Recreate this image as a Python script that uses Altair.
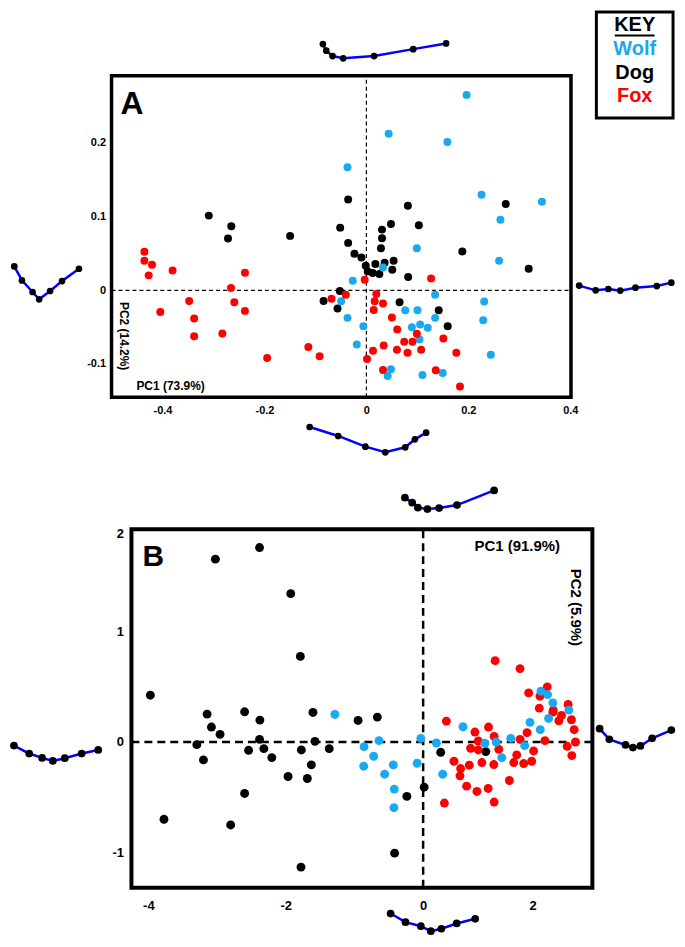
import altair as alt
import pandas as pd

FONT = "Liberation Sans"
BLUE = "#1AA9EE"
RED = "#FF0000"
GLYPH_BLUE = "#0000FF"

# ---------------- Panel A data (PC1, PC2) ----------------
a_wolf_x = [0.1966, 0.0436, 0.1589, -0.0371, 0.2259, 0.3444, 0.2630, 0.0990, 0.2604, 0.0326,
            -0.0267, 0.1348, 0.2311, -0.0495, 0.0762, 0.1003, 0.1348, -0.0371, -0.0059, 0.0892,
            0.1055, 0.1204, 0.1042, 0.2292, -0.0189, 0.2441, 0.0482, 0.0417, 0.1100, 0.1497]
a_wolf_y = [0.2653, 0.2126, 0.2014, 0.1671, 0.1297, 0.1203, 0.0959, 0.0572, 0.0401, 0.0311,
            0.0131, -0.0059, -0.0153, -0.0149, -0.0270, -0.0270, -0.0374, -0.0374, -0.0486, -0.0500,
            -0.0464, -0.0509, -0.0667, -0.0405, -0.0734, -0.0874, -0.1072, -0.1162, -0.1149, -0.1122]

a_dog_x = [-0.3092, -0.2650, -0.2715, -0.1497, -0.0358, 0.0814, -0.0514, 0.0306, 0.0482, 0.1029,
           0.0306, 0.2734, -0.0358, 0.0286, -0.0234, -0.0098, 0.1882, 0.0534, 0.0176, 0.0358,
           -0.0013, 0.0508, 0.0026, 0.0124, 0.0254, 0.3184, 0.0820, -0.0521, -0.0840, 0.0651,
           -0.0566, 0.1419, 0.1595]
a_dog_y = [0.1014, 0.0869, 0.0703, 0.0739, 0.1234, 0.1149, 0.0851, 0.0824, 0.0901, 0.0883,
           0.0707, 0.1171, 0.0644, 0.0572, 0.0495, 0.0446, 0.0527, 0.0401, 0.0356, 0.0374,
           0.0333, 0.0279, 0.0257, 0.0234, 0.0221, 0.0293, 0.0180, -0.0009, -0.0144, -0.0162,
           -0.0248, -0.0270, -0.0486]

a_fox_x = [-0.4355, -0.4355, -0.4206, -0.4271, -0.3802, -0.2383, -0.2656, -0.3477, -0.2591, -0.4043,
           -0.2383, -0.3379, -0.3379, -0.2826, -0.1947, -0.1139, -0.0918, -0.0684, -0.0404, -0.0033,
           0.1270, 0.0195, 0.0163, 0.0326, 0.0143, 0.0501, 0.0605, 0.0990, 0.0742, 0.0905,
           0.1510, 0.0339, 0.0130, 0.0599, 0.0807, 0.1074, 0.1764, 0.0013, 0.0326, 0.1361, 0.1836]
a_fox_y = [0.0523, 0.0401, 0.0347, 0.0203, 0.0270, 0.0239, 0.0032, -0.0144, -0.0162, -0.0293,
           -0.0279, -0.0383, -0.0622, -0.0586, -0.0919, -0.0770, -0.0896, -0.0113, -0.0059, 0.0144,
           0.0162, -0.0050, -0.0149, -0.0180, -0.0266, -0.0369, -0.0532, -0.0590, -0.0698, -0.0698,
           -0.0653, -0.0748, -0.0820, -0.0806, -0.0847, -0.0806, -0.0847, -0.0932, -0.1081, -0.1086, -0.1306]

# outline glyphs around panel A (in panel A units)
a_glyph_top_x = [-0.0854, -0.0787, -0.0664, -0.0455, 0.0151, 0.0918, 0.1563]
a_glyph_top_y = [0.3342, 0.3253, 0.3180, 0.3149, 0.3180, 0.3274, 0.3351]
a_glyph_left_x = [-0.6908, -0.6758, -0.6549, -0.6420, -0.6205, -0.5971, -0.5639]
a_glyph_left_y = [0.0324, 0.0135, -0.0023, -0.0122, -0.0009, 0.0126, 0.0293]
a_glyph_right_x = [0.4174, 0.4498, 0.4746, 0.4980, 0.5279, 0.5697, 0.5982]
a_glyph_right_y = [0.0064, 0.0000, 0.0018, -0.0004, 0.0036, 0.0058, 0.0104]
a_glyph_bot_x = [-0.1113, -0.0553, -0.0020, 0.0371, 0.0762, 0.0951, 0.1172]
a_glyph_bot_y = [-0.1855, -0.1977, -0.2122, -0.2199, -0.2131, -0.2023, -0.1932]

# ---------------- Panel B data (PC1, PC2) ----------------
b_dog_x = [-3.9710, -3.7729, -3.1449, -3.0821, -2.9565, -3.2947, -3.1981, -3.0242, -2.3816, -2.5990,
           -2.3768, -2.3816, -2.5411, -2.3188, -2.2029, -2.5990, -2.8019, -1.9275, -1.7874, -1.6039,
           -1.5749, -1.7729, -1.6280, -1.9662, -1.6860, -1.3671, -0.9469, -0.6667, -1.7778, -0.2367,
           -0.4155, 0.0145, 0.2560, 0.9130]
b_dog_y = [0.4234, -0.6997, 0.2523, 0.1351, 0.0691, -0.0240, -0.1622, 1.6547, 1.7598, 0.2733,
           0.1982, 0.0240, -0.0751, -0.0601, -0.1411, -0.4655, -0.7508, 1.3423, 0.7748, 0.2673,
           0.0060, -0.0721, -0.2072, -0.3123, -0.3303, -0.0601, 0.1952, 0.2252, -1.1321, -0.4925,
           -1.0060, -0.4084, -0.0931, -0.0871]

b_wolf_x = [-1.2850, -0.8599, -0.6425, -0.7198, -0.8647, -0.5604, -0.4348, -0.4203, -0.4251, -0.0870,
            -0.0338, 0.1932, 0.2850, 0.5797, 0.8986, 1.0628, 1.1449, 1.2754, 1.4783, 1.5556,
            1.7053, 1.7150, 1.8116, 1.8889, 1.8261, 2.1208]
b_wolf_y = [0.2492, -0.0420, 0.0120, -0.1291, -0.2192, -0.2913, -0.2072, -0.4264, -0.5946, -0.1922,
            0.0330, -0.0090, -0.2913, 0.1381, -0.0120, 0.0000, -0.1411, 0.0330, -0.0330, 0.1772,
            0.1111, 0.4595, 0.4294, 0.3544, 0.2132, 0.2883]

b_fox_x = [0.3382, 0.3092, 0.4493, 0.5459, 0.5362, 0.6329, 0.7826, 0.6715, 0.7536, 0.6908,
           0.8019, 0.8019, 0.8551, 0.9517, 1.0338, 0.9469, 1.0338, 1.0290, 1.1014, 1.0483,
           1.2560, 1.3188, 1.3623, 1.4106, 1.4106, 1.4638, 1.5121, 1.5797, 1.6087, 1.5362,
           1.6908, 1.7005, 1.7729, 1.8068, 1.8889, 1.9758, 2.0145, 2.1111, 2.1594, 2.1981,
           2.2174, 2.0966, 2.1643, 1.8937]
b_fox_y = [0.1892, -0.5526, -0.1742, -0.2402, -0.3063, -0.3994, -0.4474, -0.2102, 0.0901, -0.0571,
           0.0090, -0.0721, -0.1862, 0.1351, 0.0511, -0.4204, -0.5435, -0.2042, -0.0661, 0.7357,
           -0.3483, -0.1862, -0.1171, 0.0240, 0.6637, -0.1952, 0.0841, -0.1742, -0.0811, 0.4444,
           0.3063, 0.4144, 0.0120, 0.4985, 0.2703, 0.1922, 0.2402, 0.3393, 0.2012, 0.1111,
           0.0000, -0.0390, -0.1231, 0.2883]

b_glyph_top_x = [-0.2652, -0.1594, -0.0768, 0.0623, 0.2319, 0.4928, 1.0333]
b_glyph_top_y = [2.2108, 2.1658, 2.1207, 2.1081, 2.1171, 2.1441, 2.2766]
b_glyph_left_x = [-5.9565, -5.7348, -5.5464, -5.3913, -5.2174, -4.9710, -4.7304]
b_glyph_left_y = [-0.0324, -0.1045, -0.1441, -0.1712, -0.1468, -0.1045, -0.0721]
b_glyph_right_x = [2.5696, 2.7101, 2.9464, 3.0536, 3.1638, 3.3333, 3.6130]
b_glyph_right_y = [0.1207, 0.0243, -0.0270, -0.0505, -0.0360, 0.0333, 0.1081]
b_glyph_bot_x = [-0.4739, -0.2565, -0.0333, 0.1116, 0.2652, 0.4884, 0.7580]
b_glyph_bot_y = [-1.5523, -1.6306, -1.6667, -1.7117, -1.6901, -1.6423, -1.5999]

key_labels = ["KEY", "Wolf", "Dog", "Fox"]
key_colors = ["#000000", BLUE, "#000000", RED]

# tick values
a_xticks = [-0.4, -0.2, 0, 0.2, 0.4]
a_yticks = [-0.1, 0, 0.1, 0.2]
b_xticks = [-4, -2, 0, 1.594]
b_yticks = [-1, 0, 1, 1.889]


def pts(xs, ys):
    return pd.DataFrame({"x": xs, "y": ys})


def glyph_df(glyphs):
    rows = []
    for g, (xs, ys) in enumerate(glyphs):
        for i, (x, y) in enumerate(zip(xs, ys)):
            rows.append({"g": g, "i": i, "x": x, "y": y})
    return pd.DataFrame(rows)


def axis(orient, values, size, pad, offset=0):
    return alt.Axis(orient=orient, values=values,
                    labelExpr="datum.value > 1.5 ? '2' : '' + datum.value",
                    domain=False, ticks=False, tickSize=0, grid=False,
                    labelFont=FONT, labelFontWeight="bold", labelFontSize=size,
                    labelColor="black", labelPadding=pad, labelFlush=False,
                    labelOverlap=False, offset=offset, title=None)


def panel(xdom, ydom, xaxis, yaxis, w, h, frame, frame_w, dash, dash_w,
          species, pt_size, glyphs, g_size, texts, extra_layers_fn=None):
    xs = alt.Scale(domain=xdom, nice=False, zero=False)
    ys = alt.Scale(domain=ydom, nice=False, zero=False)

    def E(ch, **extra):
        return ch.encode(x=alt.X("x:Q", scale=xs, axis=xaxis),
                         y=alt.Y("y:Q", scale=ys, axis=yaxis), **extra)

    fx0, fx1, fy0, fy1 = frame
    layers = []
    layers.append(E(alt.Chart(pd.DataFrame({"x": [0], "y": [fy0], "y2": [fy1]}))
                    .mark_rule(color="black", strokeWidth=dash_w, strokeDash=dash),
                    y2="y2:Q"))
    layers.append(E(alt.Chart(pd.DataFrame({"x": [fx0], "x2": [fx1], "y": [0]}))
                    .mark_rule(color="black", strokeWidth=dash_w, strokeDash=dash),
                    x2="x2:Q"))
    for (xv, yv, col) in species:
        layers.append(E(alt.Chart(pts(xv, yv)).mark_circle(color=col, size=pt_size, opacity=1)))
    layers.append(E(alt.Chart(pd.DataFrame({"x": [fx0], "x2": [fx1], "y": [fy0], "y2": [fy1]}))
                    .mark_rect(fillOpacity=0, stroke="black", strokeWidth=frame_w),
                    x2="x2:Q", y2="y2:Q"))
    gdf = glyph_df(glyphs)
    layers.append(E(alt.Chart(gdf).mark_line(color=GLYPH_BLUE, strokeWidth=2.5),
                    detail="g:N", order="i:Q"))
    layers.append(E(alt.Chart(gdf).mark_circle(color="black", size=g_size, opacity=1)))
    for (tx, ty, t, fs, ang, al, bl) in texts:
        layers.append(E(alt.Chart(pd.DataFrame({"x": [tx], "y": [ty], "t": [t]}))
                        .mark_text(font=FONT, fontWeight="bold", fontSize=fs, angle=ang,
                                   align=al, baseline=bl, color="black"),
                        text="t:N"))
    if extra_layers_fn is not None:
        layers += extra_layers_fn(E)
    return alt.layer(*layers).properties(width=w, height=h)


# ---------- Panel A ----------
A_XDOM = [-0.5, 0.44336]
A_YDOM = [-0.14527, 0.29122]
A_FRAME = (-0.5, 0.4014, -0.14527, 0.29122)


def key_layers(E):
    out = []
    out.append(E(alt.Chart(pd.DataFrame({"x": [0.4512], "x2": [0.6016], "y": [0.2338], "y2": [0.3777]}))
                 .mark_rect(fillOpacity=0, stroke="black", strokeWidth=3),
                 x2="x2:Q", y2="y2:Q"))
    kdf = pd.DataFrame({"x": [0.5264] * 4, "y": [0.3595, 0.3270, 0.2946, 0.2635],
                        "t": key_labels, "c": key_colors})
    out.append(E(alt.Chart(kdf).mark_text(font=FONT, fontWeight="bold", fontSize=20,
                                          align="center", baseline="middle"),
                 text="t:N", color=alt.Color("c:N", scale=None)))
    out.append(E(alt.Chart(pd.DataFrame({"x": [0.4873], "x2": [0.5654], "y": [0.3459]}))
                 .mark_rule(color="black", strokeWidth=2), x2="x2:Q"))
    return out


panel_a = panel(
    A_XDOM, A_YDOM,
    axis("bottom", a_xticks, 11, 7), axis("left", a_yticks, 11, 6),
    483, 323, A_FRAME, 3.5, [4, 3], 1.2,
    [(a_dog_x, a_dog_y, "#000000"), (a_wolf_x, a_wolf_y, BLUE), (a_fox_x, a_fox_y, RED)],
    64,
    [(a_glyph_top_x, a_glyph_top_y), (a_glyph_left_x, a_glyph_left_y),
     (a_glyph_right_x, a_glyph_right_y), (a_glyph_bot_x, a_glyph_bot_y)],
    45,
    [(-0.4824, 0.2392, "A", 32, 0, "left", "alphabetic"),
     (-0.4512, -0.1297, "PC1 (73.9%)", 12, 0, "left", "middle"),
     (-0.4756, -0.0622, "PC2 (14.2%)", 12, 90, "center", "middle")],
    key_layers,
)

# ---------- Panel B ----------
B_XDOM = [-4.5362, 2.4638]
B_YDOM = [-1.3180, 1.9252]
B_FRAME = (-4.2464, 2.4638, -1.3180, 1.9252)

panel_b = panel(
    B_XDOM, B_YDOM,
    axis("bottom", b_xticks, 13, 12), axis("left", b_yticks, 13, 0, offset=-12),
    483, 360, B_FRAME, 4, [8, 5], 2.5,
    [(b_dog_x, b_dog_y, "#000000"), (b_fox_x, b_fox_y, RED), (b_wolf_x, b_wolf_y, BLUE)],
    80,
    [(b_glyph_top_x, b_glyph_top_y), (b_glyph_left_x, b_glyph_left_y),
     (b_glyph_right_x, b_glyph_right_y), (b_glyph_bot_x, b_glyph_bot_y)],
    60,
    [(-4.087, 1.592, "B", 30, 0, "left", "alphabetic"),
     (1.3696, 1.772, "PC1 (91.9%)", 15, 0, "center", "middle"),
     (2.2246, 1.218, "PC2 (5.9%)", 15, 90, "center", "middle")],
)

chart = alt.vconcat(panel_a, panel_b, spacing=132.5, bounds="flush").properties(
    padding=0
).configure_view(strokeOpacity=0)

chart.save("out.html", embed_options={"renderer": "svg", "actions": False})
